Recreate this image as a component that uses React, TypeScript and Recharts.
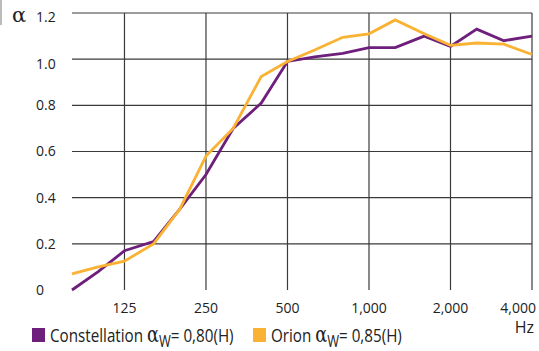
import { CartesianGrid, Line, LineChart, XAxis, YAxis } from "recharts";

const frequencies = [80, 100, 125, 160, 200, 250, 315, 400, 500, 630, 800, 1000, 1250, 1600, 2000, 2500, 3150, 4000];
const constellation = [0.0, 0.08, 0.17, 0.21, 0.35, 0.5, 0.7, 0.81, 0.99, 1.01, 1.025, 1.05, 1.05, 1.1, 1.055, 1.13, 1.08, 1.1];
const orion = [0.07, 0.1, 0.125, 0.2, 0.35, 0.58, 0.7, 0.925, 0.99, 1.04, 1.095, 1.11, 1.17, 1.11, 1.06, 1.07, 1.065, 1.02];
const xTicks = [125, 250, 500, 1000, 2000, 4000];
const yTicks = [0, 0.2, 0.4, 0.6, 0.8, 1.0, 1.2];

const PURPLE = "#6e1f7c";
const ORANGE = "#f9b233";
const TICK_FONT = "'Open Sans', 'Noto Sans', sans-serif";

const chartData = frequencies.map((freq, i) => ({
  freq,
  constellation: constellation[i],
  orion: orion[i],
}));

function XTick({ x, y, payload }: any) {
  const last = payload.value === 4000;
  const label = payload.value.toLocaleString("en-US");
  return (
    <g>
      <text
        x={last ? x + 4 : x}
        y={y}
        dy={15}
        textAnchor={last ? "end" : "middle"}
        fontFamily={TICK_FONT}
        fontSize={14}
        fill="#222"
      >
        {label}
      </text>
      {last && (
        <text x={x + 2} y={y} dy={35} textAnchor="end" fontFamily={TICK_FONT} fontSize={16} fill="#222">
          Hz
        </text>
      )}
    </g>
  );
}

function YTick({ y, payload }: any) {
  const shift = payload.value >= 1 ? 4.5 : 0;
  const label = payload.value === 0 ? "0" : payload.value.toFixed(1);
  return (
    <text x={36} y={y + shift} dy="0.35em" textAnchor="start" fontFamily={TICK_FONT} fontSize={14} fill="#222">
      {label}
    </text>
  );
}

function LegendItem({ left, color, name, value }: { left: number; color: string; name: string; value: string }) {
  return (
    <div style={{ position: "absolute", left, top: 322, height: 29, display: "flex", alignItems: "flex-start", whiteSpace: "nowrap" }}>
      <div style={{ width: 13, height: 14, background: color, marginTop: 6, marginRight: 5, flex: "none" }} />
      <div
        style={{
          fontFamily: TICK_FONT,
          fontSize: 19,
          color: "#222",
          lineHeight: "26px",
          transform: "scaleX(0.8)",
          transformOrigin: "left center",
        }}
      >
        {name} <span style={{ fontFamily: "'DejaVu Serif', serif", fontSize: 22 }}>α</span>
        <span style={{ fontSize: 16, position: "relative", top: 5 }}>W</span>= {value}
      </div>
    </div>
  );
}

export default function App() {
  return (
    <div style={{ position: "absolute", left: 0, top: 0, width: 539, height: 351, background: "#fff", overflow: "hidden" }}>
      <div style={{ position: "absolute", left: 0, top: 0, width: 2, height: 25, background: "#bbb" }} />
      <div
        style={{
          position: "absolute",
          left: 12,
          top: 3,
          fontFamily: "'DejaVu Serif', serif",
          fontSize: 21,
          color: "#222",
        }}
      >
        α
      </div>
      <LineChart width={539} height={351} data={chartData} margin={{ top: 13, right: 7, left: 0, bottom: 31 }}>
        <CartesianGrid
          stroke="#3a3a3a"
          strokeWidth={1.2}
          horizontalValues={[0.2, 0.4, 0.6, 0.8, 1.0, 1.2]}
          verticalValues={xTicks}
        />
        <XAxis
          dataKey="freq"
          type="number"
          scale="log"
          domain={[80, 4000]}
          ticks={xTicks}
          axisLine={false}
          tickLine={false}
          height={30}
          tick={<XTick />}
          interval={0}
        />
        <YAxis
          type="number"
          domain={[0, 1.2]}
          ticks={yTicks}
          axisLine={false}
          tickLine={false}
          width={72}
          tick={<YTick />}
          interval={0}
        />
        <Line dataKey="constellation" stroke={PURPLE} strokeWidth={2.8} dot={false} isAnimationActive={false} />
        <Line dataKey="orion" stroke={ORANGE} strokeWidth={2.8} dot={false} isAnimationActive={false} />
      </LineChart>
      <LegendItem left={32} color={PURPLE} name="Constellation" value="0,80(H)" />
      <LegendItem left={253} color={ORANGE} name="Orion" value="0,85(H)" />
    </div>
  );
}
